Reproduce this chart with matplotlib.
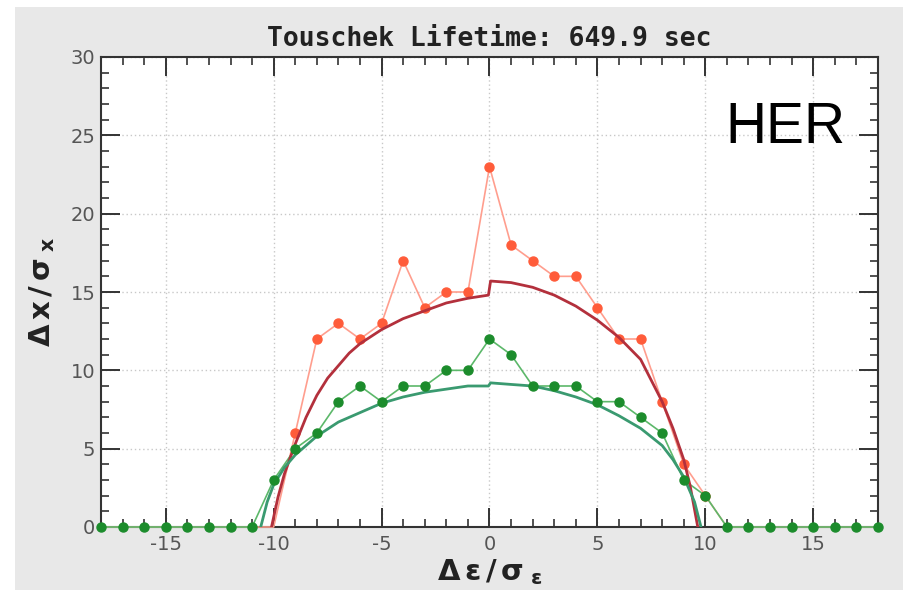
import matplotlib
matplotlib.use("Agg")
import matplotlib.pyplot as plt
from matplotlib.patches import Rectangle
from matplotlib.ticker import MultipleLocator

# ---- data ----
pts_x = list(range(-18, 19))
red_pts = [0, 0, 0, 0, 0, 0, 0, 0, 0,          # -18 .. -10
           6, 12, 13, 12, 13, 17, 14, 15, 15,   # -9 .. -1
           23,                                  # 0
           18, 17, 16, 16, 14, 12, 12, 8, 4,    # 1 .. 9
           2, 0, 0, 0, 0, 0, 0, 0, 0]           # 10 .. 18
green_pts = [0, 0, 0, 0, 0, 0, 0, 0,            # -18 .. -11
             3, 5, 6, 8, 9, 8, 9, 9, 10, 10,    # -10 .. -1
             12,                                # 0
             11, 9, 9, 9, 8, 8, 7, 6, 3, 2,     # 1 .. 10
             0, 0, 0, 0, 0, 0, 0, 0]            # 11 .. 18

red_curve_x = [-10.1, -9.8, -9.5, -9.0, -8.5, -8.0, -7.5, -7.0, -6.5, -6.0, -5.0, -4.0,
               -3.0, -2.0, -1.0, -0.05, 0.05, 1.0, 2.0, 3.0, 4.0, 5.0, 6.0, 7.0, 8.0,
               8.5, 9.0, 9.3, 9.65]
red_curve_y = [0.0, 1.9, 3.4, 5.3, 7.0, 8.4, 9.5, 10.3, 11.1, 11.7, 12.6, 13.3,
               13.8, 14.3, 14.6, 14.8, 15.7, 15.6, 15.3, 14.8, 14.1, 13.2, 12.1, 10.7, 8.0,
               6.3, 4.3, 2.6, 0.0]

green_curve_x = [-10.6, -10.3, -10.0, -9.5, -9.0, -8.0, -7.0, -6.0, -5.0, -4.0, -3.0,
                 -2.0, -1.0, -0.05, 0.05, 1.0, 2.0, 3.0, 4.0, 5.0, 6.0, 7.0, 8.0,
                 8.5, 9.0, 9.5, 9.8]
green_curve_y = [0.0, 1.6, 2.7, 3.8, 4.6, 5.8, 6.7, 7.3, 7.9, 8.3, 8.6,
                 8.8, 9.0, 9.0, 9.2, 9.1, 9.0, 8.7, 8.3, 7.8, 7.1, 6.3, 5.2,
                 4.3, 3.2, 1.6, 0.0]

x_ticks = [-15, -10, -5, 0, 5, 10, 15]
y_ticks = [0, 5, 10, 15, 20, 25, 30]
title = "Touschek Lifetime: 649.9 sec"
tag = "HER"

# ---- figure ----
plt.rcParams['mathtext.fontset'] = 'dejavusans'
plt.rcParams['mathtext.default'] = 'bf'
plt.rcParams['axes.unicode_minus'] = False
W, H = 904, 590
fig = plt.figure(figsize=(W / 100, H / 100), dpi=100, facecolor='white')
fig.patches.append(Rectangle((15 / W, 0), 1, 1 - 7 / H, transform=fig.transFigure,
                             facecolor='#e8e8e8', edgecolor='none', zorder=-10))

ax = fig.add_axes([101 / W, 1 - 527 / H, (878 - 101) / W, (527 - 57) / H])
ax.set_facecolor('white')
ax.set_xlim(-18, 18)
ax.set_ylim(0, 30)

ax.grid(True, which='major', linestyle=(0, (1, 2)), color='#c8c8c8', linewidth=1.0)
ax.set_axisbelow(True)

red_mx = [x for x, y in zip(pts_x, red_pts) if y > 0]
red_my = [y for y in red_pts if y > 0]

# thin connecting lines + dots
ax.plot(pts_x, red_pts, '-', color='#ff9e8e', linewidth=1.2, zorder=3, clip_on=False)
ax.plot(red_mx, red_my, 'o', color='#ff5c3a', markersize=6.5, zorder=4, clip_on=False)
ax.plot(pts_x, green_pts, '-', color='#5cb86a', linewidth=1.2, zorder=3, clip_on=False)
# smooth curves
ax.plot(red_curve_x, red_curve_y, '-', color='#b3303c', linewidth=2.0, zorder=5)
ax.plot(green_curve_x, green_curve_y, '-', color='#3a9a70', linewidth=2.0, zorder=5)
ax.plot(pts_x, green_pts, 'o', color='#1c8c2c', markersize=6.5, zorder=6, clip_on=False)

# ticks
ax.set_xticks(x_ticks)
ax.set_yticks(y_ticks)
ax.xaxis.set_minor_locator(MultipleLocator(1))
ax.yaxis.set_minor_locator(MultipleLocator(1))
ax.tick_params(which='both', direction='in', top=True, right=True, color='#333333')
ax.tick_params(which='major', length=14, width=1.4)
ax.tick_params(which='minor', length=6, width=1.2)
ax.tick_params(axis='x', which='major', pad=6)
ax.tick_params(axis='y', which='major', pad=4)
for lab in ax.get_xticklabels() + ax.get_yticklabels():
    lab.set_family(['Liberation Sans Narrow', 'DejaVu Sans'])
    lab.set_fontsize(14)
    lab.set_color('#555555')
for s in ax.spines.values():
    s.set_color('#333333')
    s.set_linewidth(1.5)

ax.set_title(title, family='DejaVu Sans Mono', fontweight='bold', fontsize=19,
             color='#222222', pad=8)
ax.set_xlabel(r'$\Delta\,\varepsilon\,/\,\sigma_{\ \varepsilon}$', fontsize=21,
              color='#222222', labelpad=2)
ax.set_ylabel(r'$\Delta\,x\,/\,\sigma_{\ x}$', fontsize=21, color='#222222', labelpad=10)

fig.text(725 / W, 1 - 143 / H, tag, family='Liberation Sans', fontsize=41,
         color='black', ha='left', va='baseline', zorder=7)

fig.savefig('out.png', dpi=100, facecolor=fig.get_facecolor())
